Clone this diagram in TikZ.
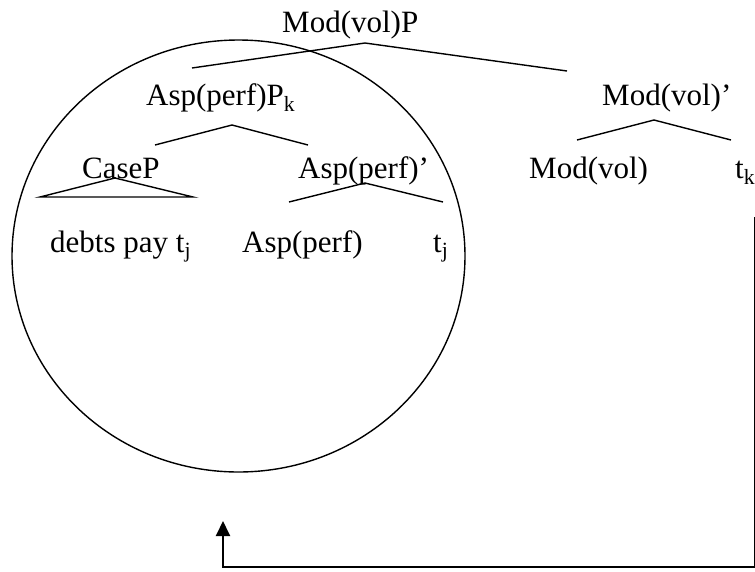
\documentclass[tikz,border=0pt]{standalone}
\usepackage{fontspec}
\setmainfont{Liberation Serif}
\usetikzlibrary{arrows.meta}

\tikzset{
    lbl/.style={anchor=base west, inner sep=0pt, font=\fontsize{31}{37}\selectfont},
    branch/.style={line width=1.4pt},
}

\begin{document}
\begin{tikzpicture}[x=1pt, y=-1pt]
        \useasboundingbox (0,0) rectangle (755,571);
        % labels
        \node[lbl] (modvolP) at (282,32) {Mod(vol)P};
        \node[lbl] (aspPk) at (146,105) {Asp(perf)P\textsubscript{k}};
        \node[lbl] (modvolbar) at (602,105) {Mod(vol)’};
        \node[lbl] (caseP) at (82,178) {CaseP};
        \node[lbl] (aspbar) at (298,178) {Asp(perf)’};
        \node[lbl] (modvol) at (529,178) {Mod(vol)};
        \node[lbl] (tk) at (735,178) {t\textsubscript{k}};
        \node[lbl] (debts) at (50,252) {debts pay t\textsubscript{j}};
        \node[lbl] (aspperf) at (242,252) {Asp(perf)};
        \node[lbl] (tj) at (433,252) {t\textsubscript{j}};
        % branch points
        \coordinate (mp-l) at (192,68);
        \coordinate (mp-top) at (365,43);
        \coordinate (mp-r) at (567,71);
        \coordinate (ap-l) at (155,145);
        \coordinate (ap-top) at (232,125);
        \coordinate (ap-r) at (308,145);
        \coordinate (mb-l) at (577,140);
        \coordinate (mb-top) at (654,120);
        \coordinate (mb-r) at (731,140);
        \coordinate (cp-l) at (40,197);
        \coordinate (cp-top) at (115,178);
        \coordinate (cp-r) at (193,197);
        \coordinate (ab-l) at (289,202);
        \coordinate (ab-top) at (365,183);
        \coordinate (ab-r) at (443,202);
        \draw[branch] (mp-l) -- (mp-top) -- (mp-r);
        \draw[branch] (ap-l) -- (ap-top) -- (ap-r);
        \draw[branch] (mb-l) -- (mb-top) -- (mb-r);
        \draw[branch] (cp-l) -- (cp-top) -- (cp-r) -- cycle;
        \draw[branch] (ab-l) -- (ab-top) -- (ab-r);
        % circle round the moved phrase
        \draw[branch] (238.5,256) ellipse [x radius=226.5pt, y radius=216pt];
        % movement arrow
        \coordinate (tk-foot) at (755,217);
        \coordinate (corner-r) at (755,567);
        \coordinate (corner-l) at (223,567);
        \coordinate (landing) at (223,521);
        \draw[line width=2pt, -{Triangle[length=15pt,width=14pt]}]
            (tk-foot) -- (corner-r) -- (corner-l) -- (landing);
    \end{tikzpicture}
\end{document}
